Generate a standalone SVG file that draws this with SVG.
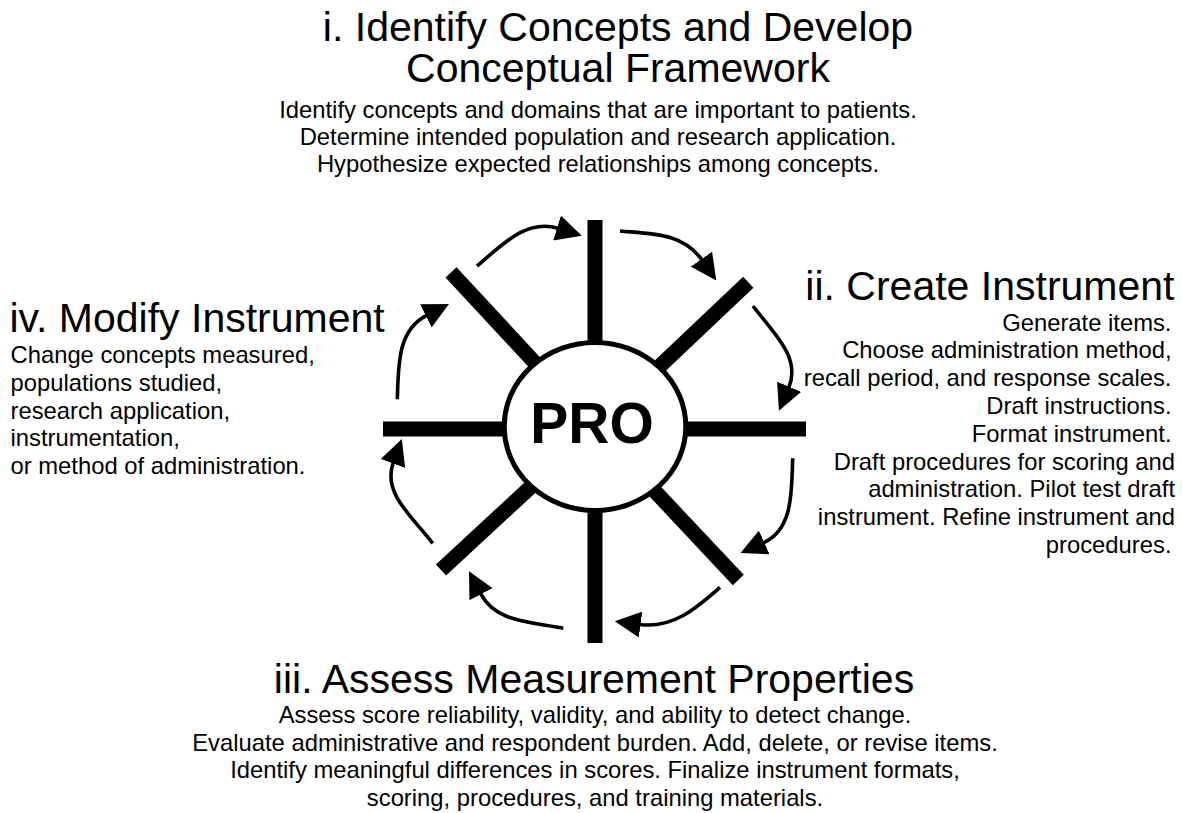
<svg xmlns="http://www.w3.org/2000/svg" width="1182" height="813" viewBox="0 0 1182 813">
  <style>
    text { font-family: "Liberation Sans", Arial, Helvetica, sans-serif; fill: #000; }
    .title { font-size: 41px; }
    .body { font-size: 23.8px; }
    .mid { text-anchor: middle; }
    .end { text-anchor: end; }
    .spoke { stroke: #000; stroke-width: 15; stroke-linecap: butt; fill: none; }
    .flow { stroke: #000; stroke-width: 3.6; fill: none; marker-end: url(#head); }
  </style>
  <defs>
    <marker id="head" markerUnits="userSpaceOnUse" markerWidth="26" markerHeight="26"
            viewBox="0 0 25 25" refX="1" refY="12.5" orient="auto">
      <path d="M0,0 L25,12.5 L0,25 Z" fill="#000"/>
    </marker>
  </defs>
  <rect width="1182" height="813" fill="#fff"/>

  <!-- central wheel -->
  <g id="wheel">
    <line class="spoke" x1="595" y1="220" x2="595" y2="427"/>
    <line class="spoke" x1="595" y1="427" x2="595" y2="643"/>
    <line class="spoke" x1="383" y1="429" x2="595" y2="429"/>
    <line class="spoke" x1="595" y1="429" x2="806" y2="429"/>
    <line class="spoke" x1="451" y1="272.3" x2="595" y2="427.5"/>
    <line class="spoke" x1="748.3" y1="282.3" x2="595" y2="427.5"/>
    <line class="spoke" x1="441" y1="570" x2="595" y2="427.5"/>
    <line class="spoke" x1="738.3" y1="580" x2="595" y2="427.5"/>
    <ellipse cx="595" cy="426.5" rx="90.8" ry="84" fill="#fff" stroke="#000" stroke-width="5"/>
    <text x="592" y="443" class="mid" style="font-size:57px;font-weight:bold">PRO</text>
  </g>

  <!-- clockwise cycle arrows -->
  <g id="connectors">
    <path class="flow" d="M477,266 C502.3,244.8 526.5,218.4 558,228.3"/>
    <path class="flow" d="M620,231 C652.9,233.9 683.1,233 702,260"/>
    <path class="flow" d="M753,306 C772.9,332.4 801.6,357.3 788.7,387.7"/>
    <path class="flow" d="M792.7,458.3 C791.5,491.3 793.4,529.2 763.3,542.8"/>
    <path class="flow" d="M720,587.3 C695.3,609.2 672.2,628.8 639.5,624.5"/>
    <path class="flow" d="M563.3,628.3 C530.9,622 495.7,622.6 480.5,593.3"/>
    <path class="flow" d="M432.7,543.3 C412.8,517 382,493.5 393.3,462.5"/>
    <path class="flow" d="M397.3,399.3 C398.5,366.3 397.2,330.1 426.7,315.3"/>
  </g>

  <!-- stage i -->
  <g id="stage-i">
    <text class="title mid"><tspan x="618" y="41">i. Identify Concepts and Develop</tspan><tspan x="618" y="82">Conceptual Framework</tspan></text>
    <text class="body mid" x="598" y="117.5">Identify concepts and domains that are important to patients.</text>
    <text class="body mid" x="598" y="144.5">Determine intended population and research application.</text>
    <text class="body mid" x="598" y="171.5">Hypothesize expected relationships among concepts.</text>
  </g>

  <!-- stage ii -->
  <g id="stage-ii">
    <text class="title end" x="1174.5" y="300">ii. Create Instrument</text>
    <text class="body end" x="1171.5" y="330.5">Generate items.</text>
    <text class="body end" x="1171.5" y="358.3">Choose administration method,</text>
    <text class="body end" x="1171.5" y="386.1">recall period, and response scales.</text>
    <text class="body end" x="1171.5" y="413.9">Draft instructions.</text>
    <text class="body end" x="1171.5" y="441.7">Format instrument.</text>
    <text class="body end" x="1175" y="469.5">Draft procedures for scoring and</text>
    <text class="body end" x="1175" y="497.3">administration. Pilot test draft</text>
    <text class="body end" x="1175" y="525.1">instrument. Refine instrument and</text>
    <text class="body end" x="1171.5" y="552.9">procedures.</text>
  </g>

  <!-- stage iii -->
  <g id="stage-iii">
    <text class="title mid" x="594" y="693.3">iii. Assess Measurement Properties</text>
    <text class="body mid" x="595" y="723.3">Assess score reliability, validity, and ability to detect change.</text>
    <text class="body mid" x="595" y="750.8">Evaluate administrative and respondent burden. Add, delete, or revise items.</text>
    <text class="body mid" x="595" y="778.3">Identify meaningful differences in scores. Finalize instrument formats,</text>
    <text class="body mid" x="595" y="805.8">scoring, procedures, and training materials.</text>
  </g>

  <!-- stage iv -->
  <g id="stage-iv">
    <text class="title" x="9.5" y="332">iv. Modify Instrument</text>
    <text class="body" x="10.5" y="362.7">Change concepts measured,</text>
    <text class="body" x="10.5" y="390.6">populations studied,</text>
    <text class="body" x="10.5" y="418.5">research application,</text>
    <text class="body" x="10.5" y="446.4">instrumentation,</text>
    <text class="body" x="10.5" y="474.3">or method of administration.</text>
  </g>
</svg>
